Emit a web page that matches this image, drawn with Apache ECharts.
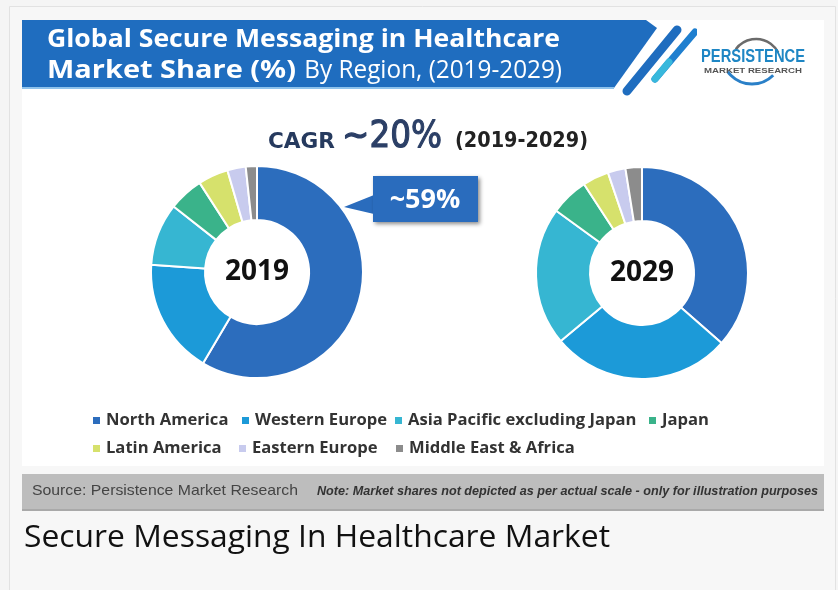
<!DOCTYPE html>
<html>
<head>
<meta charset="utf-8">
<script src="https://cdn.jsdelivr.net/npm/echarts@6/dist/echarts.min.js"></script>
<style>
html,body{margin:0;padding:0;background:#f5f5f5;}
#chart{width:838px;height:590px;}
</style>
</head>
<body>
<div id="chart"></div>
<script>
const categories = ['North America','Western Europe','Asia Pacific excluding Japan','Japan','Latin America','Eastern Europe','Middle East & Africa'];
const share2019 = [58.5, 17.6, 9.5, 5.3, 4.6, 2.8, 1.7];
const share2029 = [36.5, 27.4, 21.1, 5.8, 4.0, 2.7, 2.5];
const years = ['2019','2029'];
const callout2019 = '~59%';
const cagrText = ['CAGR','~20%','(2019-2029)'];
const titleLines = ['Global Secure Messaging in Healthcare', 'Market Share (%)', ' By Region, (2019-2029)'];
const sourceText = 'Source: Persistence Market Research';
const noteText = 'Note: Market shares not depicted as per actual scale - only for illustration purposes';
const captionText = 'Secure Messaging In Healthcare Market';
const colors = ['#2c6dbd','#1c9ad8','#36b6d2','#3ab38a','#d6e16c','#c8cbee','#8c8c8c'];

// layout (style only)
const legendPos = [[91,412],[240,412],[393,412],[647,412],[91,440],[237,440],[394,440]];

const mctx = document.createElement('canvas').getContext('2d');
function measure(text, font){ mctx.font = font; return mctx.measureText(text).width; }
function fitText(text, font, x, y, width, fill, extraStyle){
  const s = width / measure(text, font);
  return {type:'text', x:x, y:y, scaleX:s, originX:0, originY:0,
    style:Object.assign({text:text, font:font, fill:fill, verticalAlign:'middle', align:'left'}, extraStyle||{}), z:6};
}

const chart = echarts.init(document.getElementById('chart'));
function toData(vals){ return categories.map((c,i)=>({name:c, value:vals[i]})); }

const pieCommon = {
  type:'pie', radius:[52,106], startAngle:90, clockwise:true,
  label:{show:false}, labelLine:{show:false}, silent:true,
  itemStyle:{borderColor:'#ffffff', borderWidth:2},
  emphasis:{disabled:true}, animation:false
};

const legendText = {fontFamily:'Open Sans', fontSize:16.6, fontWeight:'bold', color:'#333'};
const legends = categories.map((c,i)=>({
  data:[c], left:legendPos[i][0], top:legendPos[i][1], icon:'rect', itemWidth:9, itemHeight:9,
  textStyle:legendText, selectedMode:false, padding:0
}));

const tFontB = 'bold 25px "Open Sans"';
const tFontN = '25px "Open Sans"';

chart.setOption({
  backgroundColor:'#f5f5f5',
  color: colors,
  animation:false,
  legend: legends,
  graphic:[
    {type:'rect', shape:{x:9.5,y:6.5,width:826,height:600}, style:{fill:'#f7f7f7', stroke:'#e2e2e2', lineWidth:1}, z:-10},
    {type:'rect', shape:{x:22,y:20,width:802,height:446}, style:{fill:'#ffffff'}, z:-9},
    {type:'polygon', shape:{points:[[22,20],[646,20],[657,28],[614,88],[22,88]]}, style:{fill:'#1f6dbf'}, z:-5},
    {type:'rect', shape:{x:22,y:87,width:592,height:2}, style:{fill:'#8fc3ec'}, z:-5},
    {type:'line', shape:{x1:627,y1:91,x2:677,y2:30}, style:{stroke:'#1f6dbf', lineWidth:9, lineCap:'round'}, z:-5},
    {type:'line', shape:{x1:655,y1:79,x2:695,y2:32}, style:{stroke:'#1f7fcf', lineWidth:7, lineCap:'round'}, z:-5},
    {type:'line', shape:{x1:655,y1:79,x2:669,y2:62}, style:{stroke:'#38b8dc', lineWidth:7, lineCap:'round'}, z:-4},
    fitText(titleLines[0], tFontB, 47, 40, 513, '#ffffff'),
    fitText(titleLines[1], tFontB, 47, 71, 249, '#ffffff'),
    fitText(titleLines[2], tFontN, 298, 71, 264, '#ffffff'),
    {type:'rect', shape:{x:697,y:26,width:114,height:68}, style:{fill:'#ffffff'}, z:-4},
    {type:'arc', shape:{cx:756,cy:64,r:25,startAngle:Math.PI*1.2,endAngle:Math.PI*1.85}, style:{stroke:'#6b6b6b', lineWidth:2.5, fill:null}},
    {type:'arc', shape:{cx:752,cy:54,r:30,startAngle:Math.PI*0.25,endAngle:Math.PI*0.8}, style:{stroke:'#2a80c8', lineWidth:3, fill:null}},
    fitText('PERSISTENCE', 'bold 18px "Liberation Sans"', 701, 57, 104, '#1e86c4'),
    fitText('MARKET RESEARCH', 'bold 7px "Liberation Sans"', 704, 71, 98, '#555'),
    fitText(cagrText[0], 'bold 22px "DejaVu Sans"', 268, 142, 67, '#263a5e'),
    fitText(cagrText[1], '38px "DejaVu Sans"', 342, 137, 100, '#2b3f66', {stroke:'#2b3f66', lineWidth:1.2}),
    fitText(cagrText[2], 'bold 21px "DejaVu Sans"', 455, 142, 133, '#222'),
    {type:'polygon', shape:{points:[[374,195],[374,214],[344,207]]}, style:{fill:'#2a6cbd'}, z:5},
    {type:'rect', shape:{x:373,y:176,width:105,height:46}, style:{fill:'#2a6cbd', shadowBlur:4, shadowOffsetX:2, shadowOffsetY:2, shadowColor:'rgba(0,0,0,0.45)'}, z:5},
    {type:'text', x:425, y:200, style:{text:callout2019, font:'bold 27px "Open Sans"', fill:'#ffffff', align:'center', verticalAlign:'middle'}, z:6},
    {type:'text', x:257, y:272, style:{text:years[0], font:'bold 28px "Open Sans"', fill:'#111', align:'center', verticalAlign:'middle'}, z:6},
    {type:'text', x:642, y:273, style:{text:years[1], font:'bold 28px "Open Sans"', fill:'#111', align:'center', verticalAlign:'middle'}, z:6},
    {type:'rect', shape:{x:22,y:474,width:802,height:36}, style:{fill:'#bdbdbd'}, z:-5},
    {type:'rect', shape:{x:22,y:509,width:802,height:2}, style:{fill:'#a9a9a9'}, z:-5},
    fitText(sourceText, '15px "Liberation Sans"', 32, 491, 266, '#444'),
    fitText(noteText, 'italic bold 13px "Liberation Sans"', 317, 491, 501, '#333'),
    fitText(captionText, '31px "Open Sans"', 24, 538, 586, '#111')
  ],
  series:[
    Object.assign({}, pieCommon, {name:years[0], center:[257,272], data:toData(share2019)}),
    Object.assign({}, pieCommon, {name:years[1], center:[642,273], data:toData(share2029)})
  ]
});
</script>
</body>
</html>
